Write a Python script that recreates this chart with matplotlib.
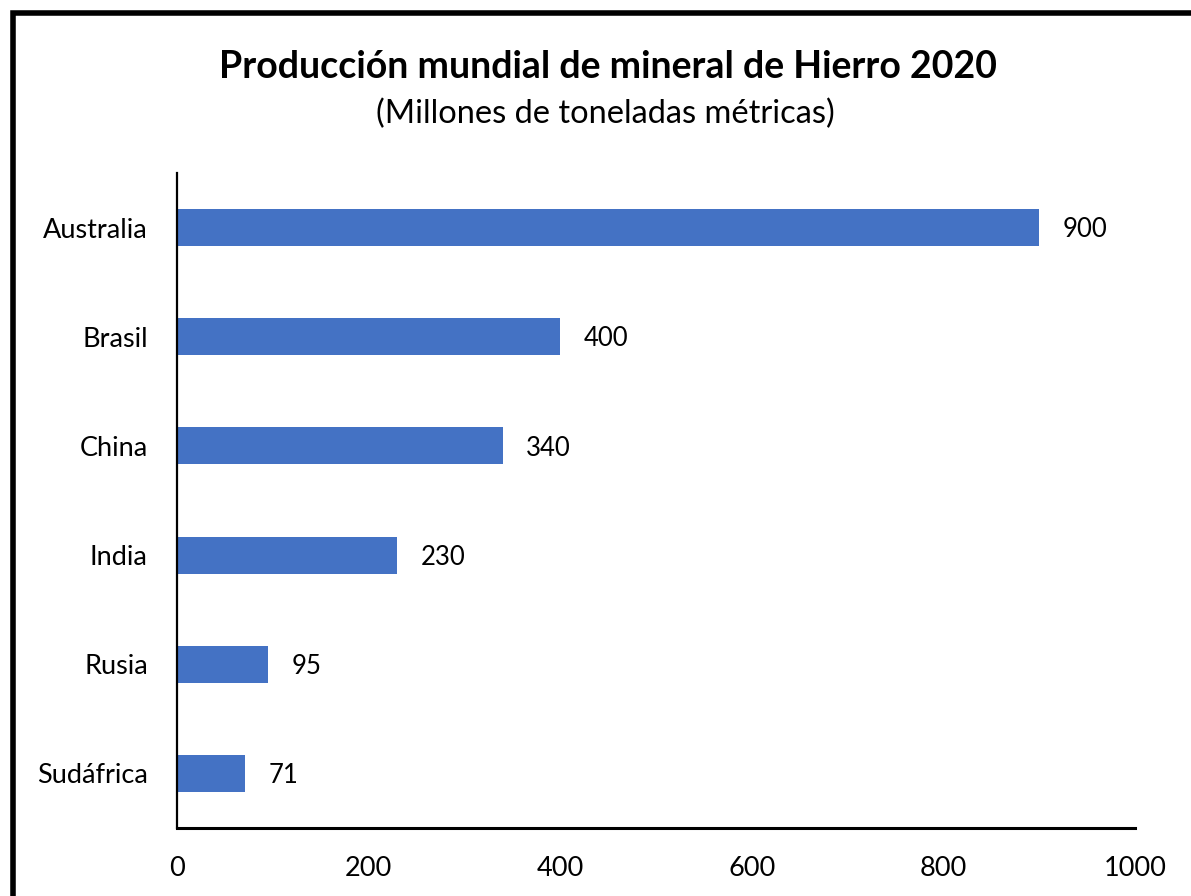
import matplotlib
matplotlib.use("Agg")
import matplotlib.pyplot as plt
from matplotlib.patches import Rectangle

countries = ["Australia", "Brasil", "China", "India", "Rusia", "Sudáfrica"]
values = [900, 400, 340, 230, 95, 71]
xticks = [0, 200, 400, 600, 800, 1000]
title = "Producción mundial de mineral de Hierro 2020"
subtitle = "(Millones de toneladas métricas)"

plt.rcParams['font.family'] = ['Lato', 'DejaVu Sans']

W, H = 1191, 896
fig = plt.figure(figsize=(W / 100, H / 100), dpi=100)
ax = fig.add_axes([177 / W, 1 - 828 / H, (1135 - 177) / W, (828 - 173) / H])

ypos = list(range(len(countries)))[::-1]
bars = ax.barh(ypos, values, height=0.34, color="#4472C4")
for y, v in zip(ypos, values):
    ax.annotate(str(v), xy=(v, y), xytext=(17, -1.5), textcoords="offset points",
                va="center", ha="left", fontsize=18.5)

ax.set_xlim(0, 1000)
ax.set_ylim(-0.5, len(countries) - 0.5)
ax.set_yticks(ypos)
ax.set_yticklabels(countries, fontsize=19.5)
ax.set_xticks(xticks)
ax.set_xticklabels([str(t) for t in xticks], fontsize=19.5)
ax.tick_params(axis="y", length=0, pad=21)
ax.tick_params(axis="x", length=0, pad=20)
for s in ["top", "right"]:
    ax.spines[s].set_visible(False)
ax.spines["left"].set_linewidth(1.6)
ax.spines["bottom"].set_linewidth(2.2)

fig.text(608 / W, 1 - 67 / H, title, ha="center", va="center", fontsize=27, fontweight="bold")
fig.text(605 / W, 1 - 114 / H, subtitle, ha="center", va="center", fontsize=23.5)

fig.patches.append(Rectangle((13 / W, -0.1), 1.2, 1 - 13 / H + 0.1, transform=fig.transFigure,
                             fill=False, edgecolor="black", linewidth=4, figure=fig))

fig.savefig("out.png", dpi=100)
